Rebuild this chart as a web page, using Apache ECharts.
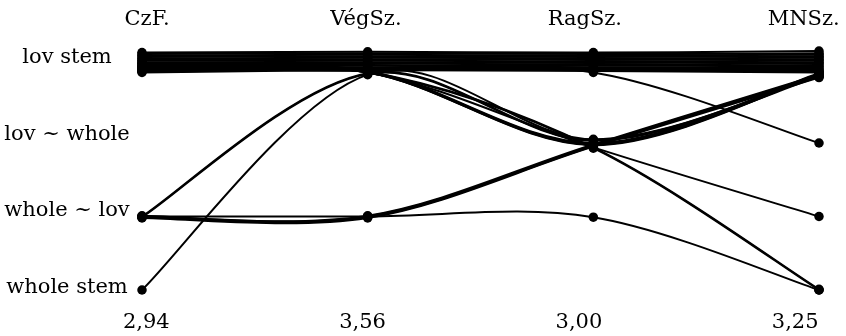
<!DOCTYPE html>
<html>
<head>
<meta charset="utf-8">
<script src="https://cdn.jsdelivr.net/npm/echarts@6/dist/echarts.min.js"></script>
<style>
  html, body { margin: 0; padding: 0; background: #fff; }
  #chart { width: 846px; height: 336px; }
</style>
</head>
<body>
<div id="chart"></div>
<script>
// Dictionaries compared (columns) and the score printed under each one
const dictionaries = ['CzF.', 'VégSz.', 'RagSz.', 'MNSz.'];
const scores = ['2,94', '3,56', '3,00', '3,25'];
// Lemma forms, bottom to top: the integer part of every position below is an index here
const forms = ['whole stem', 'whole ~ lov', 'lov ~ whole', 'lov stem'];

// One row per word: its (slightly jittered) form position in CzF., VégSz., RagSz., MNSz.
const stemEverywhere = [
  [3.23, 3.24, 3.23, 3.25],
  [3.21, 3.22, 3.21, 3.22],
  [3.19, 3.20, 3.19, 3.20],
  [3.17, 3.18, 3.17, 3.18],
  [3.15, 3.16, 3.15, 3.16],
  [3.13, 3.14, 3.13, 3.14],
  [3.12, 3.12, 3.11, 3.12],
  [3.10, 3.10, 3.09, 3.10],
  [3.08, 3.08, 3.07, 3.08],
  [3.06, 3.06, 3.05, 3.06],
  [3.04, 3.05, 3.03, 3.04],
  [3.03, 3.03, 3.02, 3.02],
  [3.01, 3.02, 3.01, 3.00],
  [2.99, 3.01, 3.00, 2.98],
  [2.97, 3.00, 2.99, 2.97],
  [2.96, 2.99, 2.98, 2.96]
];
const stemDipAtRag = [
  [3.05, 2.98, 2.00, 2.95],
  [3.02, 2.97, 1.99, 2.94],
  [3.00, 2.96, 1.98, 2.93],
  [2.98, 2.96, 1.97, 2.93],
  [3.08, 2.97, 1.99, 2.94]
];
const stemToWholeStem = [
  [3.00, 2.97, 1.94, 0.01],
  [2.99, 2.96, 1.93, 0.00]
];
const stemToLovWhole = [
  [3.01, 2.98, 2.96, 2.00]
];
const stemToWholeLov = [
  [3.02, 2.96, 1.94, 1.00]
];
const wholeLovRising = [
  [1.00, 2.95, 2.04, 2.93],
  [0.99, 2.94, 2.03, 2.90]
];
const wholeStemRising = [
  [0.00, 2.93, 2.05, 2.91]
];
const wholeLovLate = [
  [1.01, 1.00, 1.97, 2.92],
  [0.99, 0.99, 1.96, 2.91],
  [1.00, 1.01, 1.98, 2.93],
  [0.98, 0.98, 1.95, 2.89]
];
const wholeLovFalling = [
  [1.00, 1.00, 0.99, 0.00]
];

const words = [].concat(
  stemEverywhere, stemDipAtRag, stemToWholeStem, stemToLovWhole, stemToWholeLov,
  wholeLovRising, wholeStemRising, wholeLovLate, wholeLovFalling
);

const FONT = '"DejaVu Serif", serif';
const textStyle = { color: '#000', fontFamily: FONT, fontSize: 21 };

// Catmull-Rom spline through the four dictionary positions of one word
function renderWord(params, api) {
  const p = [0, 1, 2, 3].map(k => api.coord([k, api.value(k)]));
  const n = p.length;
  const children = [];
  for (let i = 0; i < n - 1; i++) {
    const p0 = p[Math.max(i - 1, 0)], p1 = p[i], p2 = p[i + 1], p3 = p[Math.min(i + 2, n - 1)];
    children.push({
      type: 'bezierCurve',
      shape: {
        x1: p1[0], y1: p1[1], x2: p2[0], y2: p2[1],
        cpx1: p1[0] + (p2[0] - p0[0]) / 6, cpy1: p1[1] + (p2[1] - p0[1]) / 6,
        cpx2: p2[0] - (p3[0] - p1[0]) / 6, cpy2: p2[1] - (p3[1] - p1[1]) / 6
      },
      style: { fill: null, stroke: '#000', lineWidth: 2 }
    });
  }
  return { type: 'group', children: children };
}

const points = [];
words.forEach(w => w.forEach((v, i) => points.push([i, v])));

const chart = echarts.init(document.getElementById('chart'), null, { renderer: 'canvas' });
chart.setOption({
  animation: false,
  backgroundColor: '#fff',
  grid: [
    { left: 142, right: 27, top: 19, bottom: 10 },       // word curves
    { left: 147.1, right: 42.3, top: 20, height: 1 },     // dictionary names
    { left: 146.3, right: 50.8, bottom: 13.5, height: 1 } // scores
  ],
  xAxis: [
    { gridIndex: 0, type: 'value', min: 0, max: 3, show: false },
    {
      gridIndex: 1, type: 'category', data: dictionaries, boundaryGap: false, position: 'top',
      axisLine: { show: false }, axisTick: { show: false },
      axisLabel: Object.assign({ margin: 0, verticalAlign: 'middle', interval: 0 }, textStyle)
    },
    {
      gridIndex: 2, type: 'category', data: scores, boundaryGap: false, position: 'bottom',
      axisLine: { show: false }, axisTick: { show: false },
      axisLabel: Object.assign({ margin: 0, verticalAlign: 'middle', interval: 0 }, textStyle)
    }
  ],
  yAxis: [
    { gridIndex: 0, type: 'value', min: -0.49, max: 3.687, show: false },
    {
      gridIndex: 0, type: 'category', data: forms, boundaryGap: true, position: 'left',
      axisLine: { show: false }, axisTick: { show: false }, splitLine: { show: false },
      axisLabel: Object.assign({ margin: 75, align: 'center', interval: 0 }, textStyle)
    },
    { gridIndex: 1, type: 'value', show: false },
    { gridIndex: 2, type: 'value', show: false }
  ],
  series: [
    {
      type: 'custom',
      xAxisIndex: 0,
      yAxisIndex: 0,
      dimensions: ['CzF', 'VegSz', 'RagSz', 'MNSz'],
      encode: { x: 0, y: 1 },
      data: words,
      renderItem: renderWord,
      clip: false,
      silent: true,
      z: 2
    },
    {
      type: 'scatter',
      xAxisIndex: 0,
      yAxisIndex: 0,
      data: points,
      symbol: 'circle',
      symbolSize: 9.5,
      silent: true,
      itemStyle: { color: '#000', opacity: 1 },
      emphasis: { disabled: true },
      z: 5
    }
  ]
});
</script>
</body>
</html>
